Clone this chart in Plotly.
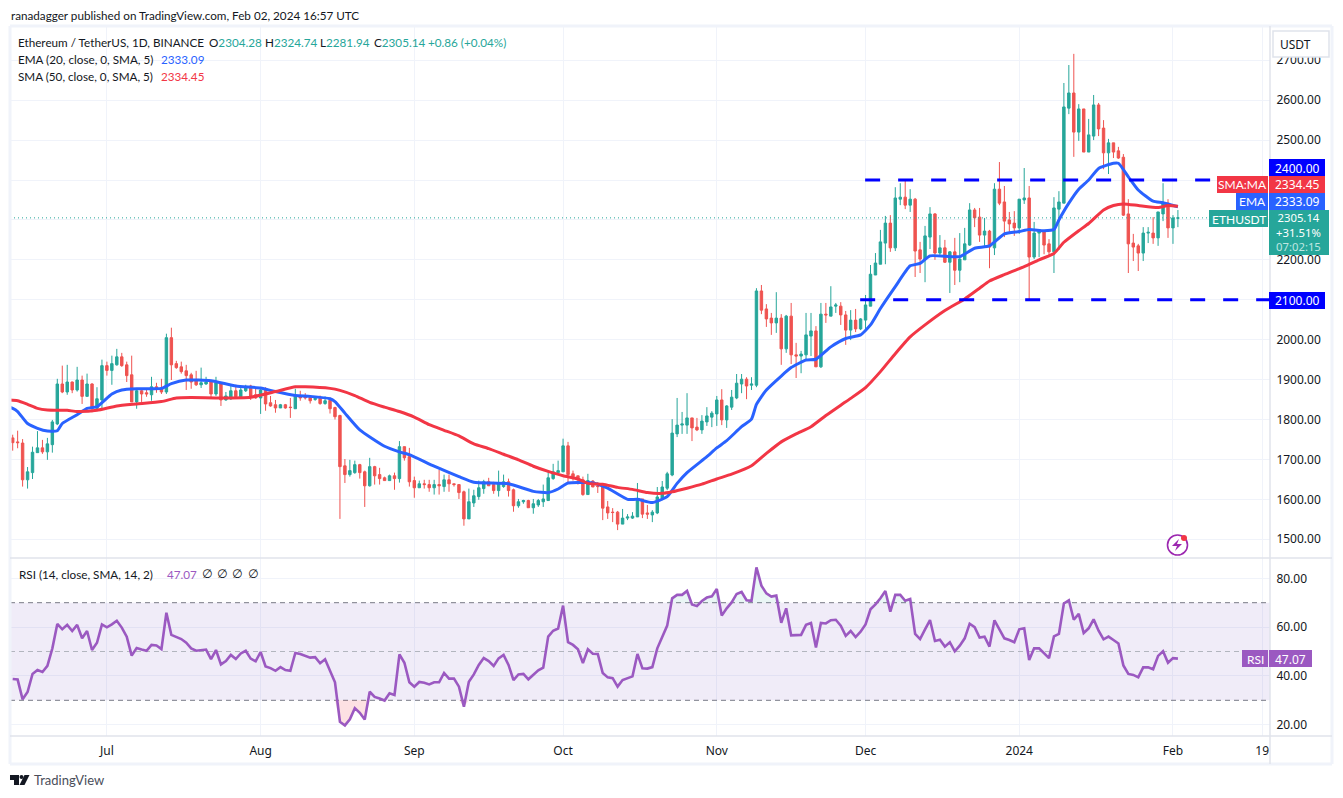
import pandas as pd
import numpy as np
import plotly.graph_objects as go

W, H = 1343, 798
FONT = "Noto Sans"
HEAD = "Lato"
HS = 11.7
GREEN, RED, BLUE, SMAC, PURPLE = "#26a69a", "#ef5350", "#2962ff", "#f23645", "#9b59c1"

start_date = "2023-06-12"
opens = [1754,1744,1741,1649,1667,1717,1729,1719,1737,1789,1889,1869,1894,1874,1899,1858,1889,1828,1849,1935,1923,1937,1957,1937,1912,1844,1872,1867,1862,1882,1879,1869,2005,1940,1932,1922,1912,1899,1887,1889,1894,1864,1892,1849,1852,1872,1857,1872,1884,1862,1854,1874,1842,1837,1829,1837,1831,1827,
1859,1858,1855,1850,1853,1840,1848,1830,1810,1684,1662,1667,1687,1669,1634,1682,1662,1654,1647,1659,1652,1732,1707,1647,1629,1639,1637,1629,1637,1632,1649,1639,1637,1619,1551,1591,1607,1627,1644,1637,1622,1632,1644,1624,1584,1594,1597,1579,1586,1594,1597,1652,1667,1669,1734,1664,1659,1649,1612,
1646,1633,1633,1581,1568,1568,1538,1553,1553,1556,1601,1566,1561,1566,1603,1628,1661,1764,1786,1786,1804,1781,1774,1794,1806,1814,1849,1799,1831,1854,1889,1901,1886,1886,2122,2077,2054,2042,2054,1977,2059,1962,1959,1962,2009,2022,1932,2064,2059,2084,2084,2062,2024,2049,2027,2049,2084,
2162,2189,2242,2292,2230,2352,2357,2337,2352,2225,2202,2257,2315,2217,2230,2194,2220,2174,2200,2237,2325,2307,2262,2272,2230,2377,2345,2300,2292,2280,2350,2355,2207,2267,2270,2240,2220,2327,2342,2580,2618,2520,2578,2470,2510,2588,2530,2468,2493,2473,2457,2315,2242,2235,2217,2267,2267,2255,2315,2342,2280,2304.28]
highs = [1762,1772,1751,1681,1732,1771,1749,1754,1799,1902,1935,1937,1895,1932,1910,1915,1891,1881,1950,1945,1960,1977,1967,1945,1960,1879,1877,1879,1907,1892,1902,2015,2030,1947,1945,1937,1917,1922,1930,1907,1899,1907,1894,1869,1889,1887,1884,1887,1887,1879,1879,1881,1859,1849,1839,1839,1854,1877,
1872,1866,1860,1855,1860,1858,1855,1832,1812,1701,1699,1697,1689,1672,1704,1684,1679,1657,1662,1667,1746,1732,1729,1657,1647,1649,1649,1649,1674,1662,1662,1639,1637,1622,1627,1624,1647,1649,1654,1644,1672,1662,1652,1627,1601,1599,1599,1601,1601,1637,1669,1689,1697,1752,1744,1672,1659,1657,1664,
1648,1643,1636,1596,1578,1571,1576,1563,1568,1641,1601,1586,1573,1631,1646,1669,1801,1854,1819,1866,1804,1804,1811,1831,1821,1859,1876,1836,1874,1914,1914,1906,1906,2129,2137,2089,2067,2119,2064,2062,2092,1992,1972,2067,2067,2034,2092,2092,2134,2092,2094,2072,2074,2077,2054,2112,2187,
2217,2275,2310,2312,2382,2392,2402,2377,2355,2245,2285,2332,2317,2262,2250,2222,2255,2267,2280,2342,2330,2330,2305,2275,2392,2445,2385,2320,2322,2352,2430,2385,2295,2277,2272,2252,2357,2372,2643,2688,2716,2590,2578,2553,2613,2593,2550,2503,2493,2483,2465,2352,2265,2240,2282,2282,2307,2320,2392,2352,2312,2324.74]
lows = [1722,1728,1632,1627,1651,1717,1714,1699,1717,1786,1866,1862,1866,1870,1839,1858,1818,1826,1828,1910,1887,1935,1932,1894,1844,1827,1844,1857,1847,1867,1864,1864,1899,1927,1915,1874,1877,1884,1879,1887,1852,1859,1834,1847,1849,1852,1854,1869,1849,1852,1814,1822,1832,1817,1829,1827,1804,1827,
1847,1850,1840,1847,1837,1837,1815,1800,1551,1641,1657,1664,1652,1581,1632,1637,1637,1647,1647,1624,1642,1697,1632,1604,1629,1627,1619,1612,1612,1619,1619,1632,1601,1534,1551,1581,1599,1614,1634,1614,1607,1629,1607,1569,1579,1589,1579,1564,1581,1581,1597,1649,1667,1669,1639,1647,1637,1609,1612,
1631,1616,1548,1551,1543,1523,1538,1548,1551,1556,1553,1551,1543,1563,1598,1623,1658,1756,1764,1764,1746,1771,1764,1784,1781,1784,1786,1779,1824,1851,1866,1851,1874,1881,2064,2032,2012,2017,1937,1967,1939,1904,1916,1949,1959,1932,1929,2042,2059,2067,2037,1987,1999,2019,2024,2019,2084,
2162,2189,2189,2220,2222,2337,2327,2320,2157,2167,2144,2227,2200,2212,2192,2117,2137,2144,2200,2235,2282,2245,2235,2179,2212,2337,2257,2267,2260,2265,2340,2099,2202,2207,2214,2207,2167,2225,2342,2565,2458,2498,2470,2470,2500,2510,2427,2415,2455,2453,2310,2167,2197,2172,2197,2242,2240,2235,2297,2255,2240,2281.94]
closes = [1742,1742,1649,1669,1718,1729,1719,1739,1794,1889,1869,1894,1874,1899,1858,1889,1828,1852,1935,1923,1940,1957,1935,1910,1844,1872,1864,1864,1882,1879,1869,2005,1937,1930,1920,1910,1894,1887,1892,1894,1864,1892,1849,1859,1872,1857,1874,1882,1859,1854,1874,1839,1834,1829,1837,1829,1830,1859,
1854,1854,1847,1853,1840,1847,1827,1807,1682,1662,1672,1687,1667,1634,1682,1659,1652,1647,1659,1652,1732,1704,1644,1629,1639,1637,1629,1637,1634,1649,1639,1637,1617,1551,1594,1609,1629,1644,1634,1622,1642,1644,1622,1584,1594,1597,1579,1589,1597,1601,1654,1669,1672,1734,1662,1657,1649,1612,1647,
1631,1632,1578,1566,1567,1538,1553,1556,1558,1601,1563,1563,1568,1606,1631,1664,1766,1786,1789,1804,1779,1774,1796,1809,1816,1849,1799,1834,1856,1891,1901,1884,1889,2122,2074,2052,2042,2054,1977,2059,1962,1959,1964,2012,2022,1932,2064,2062,2082,2087,2062,2024,2049,2027,2052,2087,2164,
2192,2245,2292,2230,2355,2357,2337,2352,2222,2202,2260,2315,2217,2230,2194,2220,2174,2202,2240,2325,2305,2262,2272,2232,2377,2342,2297,2290,2280,2352,2355,2207,2267,2275,2237,2220,2330,2345,2583,2618,2520,2578,2470,2513,2588,2528,2468,2493,2470,2455,2312,2240,2232,2217,2267,2269,2255,2320,2342,2280,2305,2305.14]

ema_days = [-1,0,1,3,5,7,9,10,13,15,17,20,22,25,30,32,35,40,45,50,53,57,60,64,65,67,70,75,78,80,85,90,93,100,105,108,110,112,116,118,120,124,126,129,132,134,136,140,142,144,147,149,150,152,155,157,160,162,165,168,171,173,175,178,181,183,185,191,194,197,200,203,205,208,210,211,213,215,217,219,222,223,225,227,230,232,235]
ema_vals = [1832,1828,1820,1790,1778,1771,1772,1790,1812,1828,1832,1864,1874,1877,1878,1890,1899,1897,1884,1879,1870,1860,1858,1852,1845,1816,1774,1733,1719,1712,1683,1657,1643,1639,1620,1617,1626,1641,1642,1638,1628,1600,1600,1592,1607,1640,1667,1707,1729,1747,1782,1801,1838,1874,1909,1930,1949,1951,1982,2003,2012,2037,2078,2133,2185,2191,2210,2208,2229,2235,2265,2271,2276,2273,2276,2300,2342,2377,2400,2429,2442,2442,2408,2375,2347,2343,2333.09]
sma_days = [-1,1,3,5,7,11,13,17,21,25,30,33,36,42,48,53,57,59,64,66,69,72,75,78,81,84,87,90,93,96,99,102,105,108,111,114,116,119,122,125,128,131,133,136,139,142,145,149,152,155,158,161,164,167,169,172,175,178,181,184,188,192,195,197,200,204,207,210,212,215,217,220,222,224,227,231,233,235]
sma_vals = [1849,1847,1838,1828,1824,1823,1820,1823,1834,1839,1845,1854,1855,1854,1856,1870,1882,1882,1878,1873,1860,1843,1831,1820,1806,1787,1773,1759,1739,1727,1713,1699,1683,1670,1659,1651,1640,1638,1630,1625,1617,1615,1619,1628,1638,1651,1663,1684,1715,1744,1764,1782,1810,1836,1853,1880,1920,1965,2007,2037,2073,2102,2129,2147,2163,2183,2200,2216,2244,2273,2291,2325,2336,2340,2336,2331,2336,2334.45]
rsi_vals = [38.7,38.5,30.4,33.4,40.8,42.4,41.6,44.1,51.3,61.3,59.1,60.9,58.4,60.9,55.4,58.4,50.6,53.6,61.1,59.9,61.1,62.6,59.8,56.1,48.3,51.4,50.8,50.3,52.7,52.5,51.0,65.9,56.8,56.1,55.1,53.6,51.3,50.3,50.6,50.8,46.9,50.6,44.7,46.1,48.6,46.9,49.2,50.3,47.1,46.0,49.8,43.9,43.2,42.1,43.6,42.4,42.1,49.4,49.0,48.3,47.5,47.7,45.2,46.8,41.7,37.4,21.2,19.7,22.2,26.8,24.9,22.1,33.5,31.4,30.7,29.9,32.9,32.2,48.8,45.4,37.4,35.6,37.5,37.2,36.5,37.4,37.4,41.2,38.9,
38.9,35.6,27.4,37.6,40.6,44.5,47.3,46.1,44.1,47.2,48.6,44.5,38.3,40.6,40.8,38.6,40.6,42.3,43.4,56.1,58.5,59.4,68.8,53.8,52.7,50.9,45.3,50.9,49.1,49.0,41.2,39.4,39.1,35.6,38.3,39.0,39.8,49.0,43.1,43.0,43.6,51.3,56.1,60.6,71.8,73.2,73.2,74.8,69.3,68.6,70.7,72.1,72.6,75.6,64.7,67.7,70.1,73.6,74.4,71.0,70.8,84.5,77.0,73.8,72.5,72.9,61.8,67.7,56.6,56.6,56.8,60.9,61.7,51.6,61.7,61.5,62.8,63.0,60.6,56.4,58.4,55.9,58.1,61.1,67.3,69.3,71.8,74.8,66.3,
73.2,73.2,70.8,71.5,57.2,55.1,59.1,62.9,54.3,54.8,52.0,53.8,50.1,52.4,55.4,61.4,60.0,55.7,56.1,52.0,62.8,59.2,55.4,54.7,53.8,59.1,59.5,46.5,51.3,51.3,49.2,47.3,56.2,57.2,69.7,71.0,63.0,65.4,57.6,59.5,63.2,58.5,55.0,56.1,54.7,53.3,44.3,40.8,40.4,39.4,43.5,43.5,42.7,48.2,50.1,45.4,47.3,47.07]
resistance = 2400
support = 2100
last_price = 2305.14
price_ticks = [1500,1600,1700,1800,1900,2000,2100,2200,2300,2400,2500,2600,2700]
price_tick_labels = ["1500.00","1600.00","1700.00","1800.00","1900.00","2000.00","","2200.00","","","2500.00","2600.00","2700.00"]
rsi_ticks = [20,40,60,80]
month_dates = ["2023-07-01","2023-08-01","2023-09-01","2023-10-01","2023-11-01","2023-12-01","2024-01-01","2024-02-01","2024-02-19"]
month_labels = ["Jul","Aug","Sep","Oct","Nov","Dec","2024","Feb","19"]

assert len(opens) == len(highs) == len(lows) == len(closes) == 236
assert len(rsi_vals) == 236
assert len(ema_days) == len(ema_vals), (len(ema_days), len(ema_vals))
assert len(sma_days) == len(sma_vals), (len(sma_days), len(sma_vals))

t0 = pd.Timestamp(start_date)
dates = [t0 + pd.Timedelta(days=i) for i in range(236)]
ema_x = [t0 + pd.Timedelta(days=i) for i in ema_days]
sma_x = [t0 + pd.Timedelta(days=i) for i in sma_days]
X_L, X_R = "2023-06-11 11:00", "2024-02-20 13:40"

def px(x): return x / W
def py(y): return 1 - y / H

GRID = "#f0f3fa"
SEP = "#e0e3eb"
fig = go.Figure()
fig.add_trace(go.Scatter(x=[X_L, X_R, X_R, X_L], y=[70, 70, 30, 30], fill="toself", fillcolor="rgba(126,87,194,0.115)",
                         line=dict(width=0), mode="lines", xaxis="x2", yaxis="y2", hoverinfo="skip"))
for lvl, col in ((70, "#787b86"), (50, "#b2b5be"), (30, "#787b86")):
    fig.add_trace(go.Scatter(x=[X_L, X_R], y=[lvl, lvl], mode="lines", xaxis="x2", yaxis="y2",
                             line=dict(color=col, width=1, dash="5px,4px"), hoverinfo="skip"))
arr = np.array(rsi_vals)
fig.add_trace(go.Scatter(x=dates, y=[30]*236, mode="lines", line=dict(width=0), xaxis="x2", yaxis="y2", hoverinfo="skip"))
fig.add_trace(go.Scatter(x=dates, y=np.minimum(arr, 30), mode="lines", line=dict(width=0), fill="tonexty",
                         fillcolor="rgba(242,54,69,0.15)", xaxis="x2", yaxis="y2", hoverinfo="skip"))
fig.add_trace(go.Scatter(x=dates, y=[70]*236, mode="lines", line=dict(width=0), xaxis="x2", yaxis="y2", hoverinfo="skip"))
fig.add_trace(go.Scatter(x=dates, y=np.maximum(arr, 70), mode="lines", line=dict(width=0), fill="tonexty",
                         fillcolor="rgba(38,166,154,0.10)", xaxis="x2", yaxis="y2", hoverinfo="skip"))
fig.add_trace(go.Scatter(x=dates, y=rsi_vals, mode="lines", xaxis="x2", yaxis="y2",
                         line=dict(color=PURPLE, width=2.6), name="RSI"))
fig.add_trace(go.Scatter(x=[X_L, X_R], y=[last_price, last_price], mode="lines", xaxis="x", yaxis="y",
                         line=dict(color=GREEN, width=1, dash="1px,3px"), hoverinfo="skip"))
fig.add_trace(go.Candlestick(x=dates, open=opens, high=highs, low=lows, close=closes, xaxis="x", yaxis="y",
                             increasing=dict(line=dict(color=GREEN, width=1), fillcolor=GREEN),
                             decreasing=dict(line=dict(color=RED, width=1), fillcolor=RED), name="ETHUSDT"))
fig.add_trace(go.Scatter(x=ema_x, y=ema_vals, mode="lines", line=dict(color=BLUE, width=3, shape="spline", smoothing=0.5),
                         xaxis="x", yaxis="y", name="EMA"))
fig.add_trace(go.Scatter(x=sma_x, y=sma_vals, mode="lines", line=dict(color=SMAC, width=3, shape="spline", smoothing=0.5),
                         xaxis="x", yaxis="y", name="SMA"))
fig.add_trace(go.Scatter(x=["2023-11-30 22:00", "2024-02-08 12:00"], y=[resistance]*2, mode="lines", xaxis="x", yaxis="y",
                         line=dict(color="#0000ff", width=3, dash="15px,18px"), hoverinfo="skip"))
fig.add_trace(go.Scatter(x=["2023-11-29 22:00", X_R], y=[support]*2, mode="lines", xaxis="x", yaxis="y",
                         line=dict(color="#0000ff", width=3, dash="15px,18px"), hoverinfo="skip"))

shapes, ann = [], []
def rect(x0, y0, x1, y1, color, line=None, w=0):
    shapes.append(dict(type="rect", xref="paper", yref="paper", x0=px(x0), x1=px(x1), y0=py(y0), y1=py(y1),
                       fillcolor=color, line=dict(color=line or color, width=w), layer="above"))
def hline(x0, y0, x1, y1, color, w=1):
    shapes.append(dict(type="line", xref="paper", yref="paper", x0=px(x0), x1=px(x1), y0=py(y0), y1=py(y1),
                       line=dict(color=color, width=w), layer="above"))
def text(x, y, s, color="#131722", size=HS, anchor="left", family=HEAD):
    ann.append(dict(xref="paper", yref="paper", x=px(x), y=py(y), text=s, showarrow=False,
                    xanchor=anchor, yanchor="middle", font=dict(family=family, size=size, color=color), borderpad=0))
for a in ((10, 26, 1332, 26), (10, 26, 10, 764), (1332, 26, 1332, 764), (10, 764, 1332, 764)):
    hline(*a, "#f0f3fa", 3)
hline(10, 558, 1332, 558, SEP, 1.5)
hline(10, 736, 1332, 736, SEP, 1.5)
hline(1270, 26, 1270, 764, SEP, 1.5)
rect(1273, 31, 1329, 57, "#ffffff", SEP, 1.5)
text(1295, 44, "USDT", "#131722", 12, "center", FONT)
rect(1269, 159, 1325, 176, "#0000ff"); text(1297, 168, "2400.00", "#ffffff", 12, "center", FONT)
rect(1269, 292, 1325, 309, "#0000ff"); text(1297, 300.5, "2100.00", "#ffffff", 12, "center", FONT)
rect(1217, 176, 1268, 193, SMAC); text(1242.5, 185, "SMA:MA", "#ffffff", 12, "center")
rect(1269, 176, 1325, 193, SMAC); text(1297, 185, "2334.45", "#ffffff", 12, "center", FONT)
rect(1236, 193, 1268, 210, BLUE); text(1252, 202, "EMA", "#ffffff", 12, "center")
rect(1269, 193, 1325, 210, BLUE); text(1297, 202, "2333.09", "#ffffff", 12, "center", FONT)
rect(1209, 210, 1268, 227, GREEN); text(1238.5, 219, "ETHUSDT", "#ffffff", 12, "center")
rect(1269, 210, 1329, 255, GREEN)
text(1298, 232.5, '2305.14<br>+31.51%<br><span style="color:#bfe6e1">07:02:15</span>', "#ffffff", 11.3, "center", FONT)
rect(1242, 650, 1268, 667, PURPLE); text(1255, 659, "RSI", "#ffffff", 12, "center")
rect(1269, 650, 1312, 667, PURPLE); text(1290.5, 659, "47.07", "#ffffff", 12, "center", FONT)
text(10, 15, "ranadagger published on TradingView.com, Feb 02, 2024 16:57 UTC")
text(17, 42, "Ethereum / TetherUS, 1D, BINANCE")
for xx, lab, val in ((208, "O", "2304.28"), (264, "H", "2324.74"), (319, "L", "2281.94"), (373, "C", "2305.14")):
    text(xx, 42, '%s<span style="color:%s">%s</span>' % (lab, GREEN, val))
text(427, 42, "+0.86 (+0.04%)", GREEN)
text(17, 59, "EMA (20, close, 0, SMA, 5)")
text(160, 59, "2333.09", BLUE)
text(17, 76, "SMA (50, close, 0, SMA, 5)")
text(160, 76, "2334.45", SMAC)
text(18, 574, "RSI (14, close, SMA, 14, 2)")
text(166, 574, "47.07", PURPLE)
for xx in (207, 222, 237, 253):
    text(xx, 574, "∅", "#131722", 12, "center", "DejaVu Sans")
shapes.append(dict(type="path", xref="paper", yref="paper", path="M%f,%f L%f,%f L%f,%f L%f,%f L%f,%f L%f,%f Z" % (
    px(10), py(775), px(19), py(775), px(19), py(785), px(14), py(785), px(14), py(780), px(10), py(780)),
    fillcolor="#131722", line=dict(width=0), layer="above"))
shapes.append(dict(type="path", xref="paper", yref="paper", path="M%f,%f L%f,%f L%f,%f L%f,%f Z" % (
    px(24.5), py(775), px(29.5), py(775), px(24.5), py(785), px(19.5), py(785)),
    fillcolor="#131722", line=dict(width=0), layer="above"))
shapes.append(dict(type="circle", xref="paper", yref="paper", x0=px(19.5), x1=px(23.5), y0=py(779), y1=py(775),
                   fillcolor="#131722", line=dict(width=0), layer="above"))
text(33, 780, "TradingView", "#4a4e5a", 13)
shapes.append(dict(type="circle", xref="paper", yref="paper", x0=px(1167.5), x1=px(1187.5), y0=py(555), y1=py(535),
                   fillcolor="#ffffff", line=dict(color="#9c27b0", width=1.6), layer="above"))
shapes.append(dict(type="path", xref="paper", yref="paper", path="M%f,%f L%f,%f L%f,%f L%f,%f L%f,%f L%f,%f Z" % (
    px(1179), py(539), px(1172), py(546), px(1177), py(546), px(1175), py(551), px(1182), py(544), px(1177), py(544)),
    fillcolor="#9c27b0", line=dict(width=0), layer="above"))
shapes.append(dict(type="circle", xref="paper", yref="paper", x0=px(1181), x1=px(1187), y0=py(541), y1=py(535),
                   fillcolor="#f23645", line=dict(width=0), layer="above"))

tickfont = dict(family=FONT, size=12, color="#131722")
fig.update_layout(
    width=W, height=H, margin=dict(l=0, r=0, t=0, b=0), paper_bgcolor="white", plot_bgcolor="white", showlegend=False,
    shapes=shapes, annotations=ann, font=dict(family=FONT), hovermode=False,
    xaxis=dict(domain=[px(10), px(1270)], range=[X_L, X_R], type="date", anchor="y", rangeslider=dict(visible=False),
               tickvals=month_dates, ticktext=[""]*9, gridcolor=GRID, gridwidth=1, showline=False, zeroline=False, ticks=""),
    yaxis=dict(domain=[py(558), py(27)], range=[2400 - (558-180)*2.505, 2400 + (180-27)*2.505], side="right", anchor="x",
               tickvals=price_ticks, ticktext=price_tick_labels, gridcolor=GRID, gridwidth=1, zeroline=False, showline=False,
               ticks="outside", ticklen=3, tickcolor="rgba(0,0,0,0)", tickfont=tickfont),
    xaxis2=dict(domain=[px(10), px(1270)], range=[X_L, X_R], type="date", anchor="y2",
                tickvals=month_dates, ticktext=month_labels, gridcolor=GRID, gridwidth=1, showline=False, zeroline=False,
                ticks="outside", ticklen=4, tickcolor="rgba(0,0,0,0)", tickfont=tickfont, tickangle=0),
    yaxis2=dict(domain=[py(736), py(558)], range=[50 - (736-651.5)/2.44, 50 + (651.5-558)/2.44], side="right", anchor="x2",
                tickvals=rsi_ticks, tickformat=".2f", gridcolor=GRID, gridwidth=1, zeroline=False, showline=False,
                ticks="outside", ticklen=3, tickcolor="rgba(0,0,0,0)", tickfont=tickfont),
)
fig.write_html("out.html", post_script="document.body.style.margin='0';", config=dict(displayModeBar=False))
